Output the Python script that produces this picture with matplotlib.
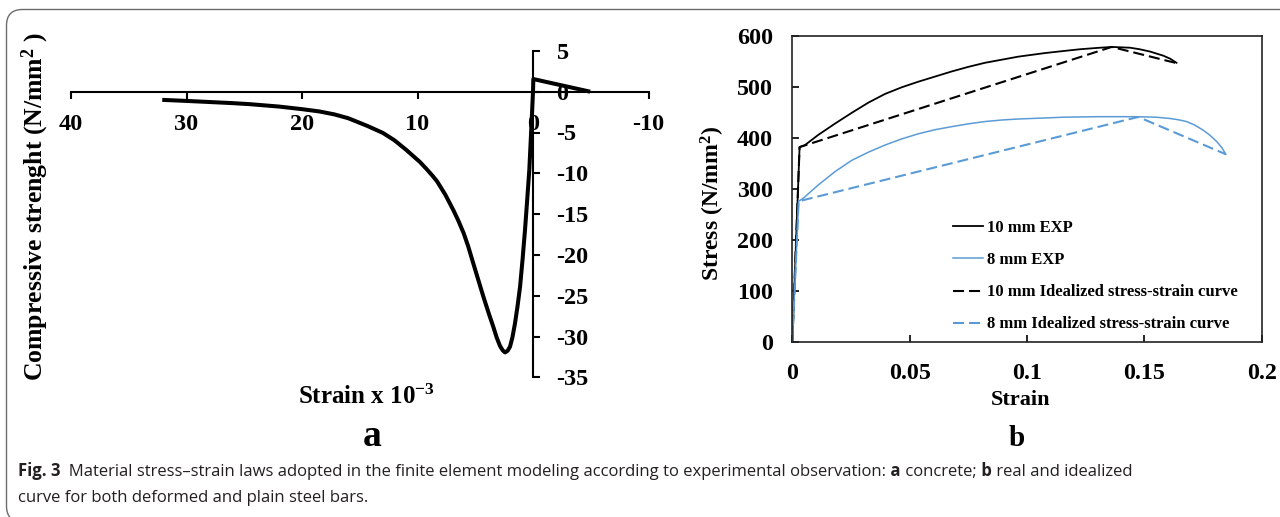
import matplotlib
matplotlib.use("Agg")
import matplotlib.pyplot as plt
from matplotlib.patches import FancyBboxPatch
from matplotlib.offsetbox import TextArea, HPacker, AnnotationBbox

# ---- concrete (panel a): strain x 10^-3 vs compressive strength ----
concrete_strain = [32.1, 30.0, 26.0, 24.5, 22.0, 20.0, 18.5, 17.2, 16.0, 14.35,
                   13.0, 12.0, 11.0, 10.4, 9.8, 9.2, 8.7, 8.3, 7.6, 6.9, 6.45,
                   6.0, 5.6, 5.2, 4.75, 4.3, 3.8, 3.44, 3.15, 2.86, 2.62,
                   2.42, 2.2, 1.99, 1.78, 1.56, 1.34, 1.12, 0.9, 0.69, 0.5,
                   0.32, 0.15, 0.0, -0.03, -4.95]
concrete_stress = [-1.0, -1.13, -1.4, -1.53, -1.82, -2.14, -2.42, -2.78, -3.25,
                   -4.19, -5.05, -5.95, -7.1, -7.85, -8.6, -9.5, -10.3, -11.0,
                   -12.6, -14.5, -15.85, -17.35, -19.0, -20.9, -23.0, -25.1,
                   -27.3, -28.8, -30.1, -31.15, -31.7, -31.95, -31.75, -31.25,
                   -30.1, -28.4, -26.3, -23.9, -20.5, -16.9, -13.2, -9.6,
                   -4.6, 0.0, 1.55, 0.0]
concrete_xticks = [40, 30, 20, 10, 0, -10]
concrete_yticks = [-35, -30, -25, -20, -15, -10, -5, 0, 5]

# ---- steel bars (panel b) ----
exp10_strain = [0, 0.0031, 0.0054, 0.0111, 0.0182, 0.0253, 0.0324, 0.0395,
                0.0466, 0.0537, 0.0608, 0.0679, 0.075, 0.0821, 0.0892,
                0.0963, 0.1076, 0.1155, 0.1226, 0.1297, 0.1361, 0.1439,
                0.148, 0.1524, 0.158, 0.161, 0.1637]
exp10_stress = [0, 382, 386, 406, 428, 449, 469, 486, 499, 510, 520, 530,
                539, 547, 553, 559, 566, 570, 573.5, 576, 578, 576.5, 573.5,
                569, 561, 555, 547]
exp8_strain = [0, 0.0027, 0.0047, 0.0111, 0.0182, 0.0253, 0.0324, 0.0395,
               0.0466, 0.0537, 0.0608, 0.0679, 0.075, 0.0821, 0.0892, 0.0963,
               0.1076, 0.1155, 0.13, 0.1467, 0.155, 0.1609, 0.1645, 0.168,
               0.1715, 0.1751, 0.178, 0.1808, 0.183, 0.1847]
exp8_stress = [0, 276, 282, 308, 334, 356, 372, 386, 398, 408, 416, 422, 427.5,
               432, 435, 437, 439, 440.5, 441.5, 441.5, 440.5, 438, 435.5, 432,
               425, 415, 405, 393, 381, 368]
ideal10_strain = [0, 0.0031, 0.1361, 0.1640]
ideal10_stress = [0, 382, 578, 546]
ideal8_strain = [0, 0.0027, 0.1474, 0.1847]
ideal8_stress = [0, 276, 441, 368]
steel_xticks = [0, 0.05, 0.1, 0.15, 0.2]
steel_xticklabels = ["0", "0.05", "0.1", "0.15", "0.2"]
steel_yticks = [0, 100, 200, 300, 400, 500, 600]
series_labels = ["10 mm EXP", "8 mm EXP",
                 "10 mm Idealized stress-strain curve",
                 "8 mm Idealized stress-strain curve"]

BLUE = "#5B9BD5"
W, H = 1280, 517

plt.rcParams.update({
    "font.family": ["Liberation Serif", "DejaVu Serif"],
    "font.weight": "bold",
    "axes.unicode_minus": False,
    "mathtext.fontset": "custom",
    "mathtext.rm": "Liberation Serif:bold",
    "mathtext.bf": "Liberation Serif:bold",
    "mathtext.it": "Liberation Serif:bold",
    "mathtext.default": "rm",
})

fig = plt.figure(figsize=(W / 100, H / 100), dpi=100)


def fx(px):
    return px / W


def fy(py):
    return 1 - py / H


def rect(x0, y0, x1, y1):
    return [fx(x0), fy(y1), fx(x1) - fx(x0), fy(y0) - fy(y1)]


# rounded frame around the figure (coordinates in inches)
frame = FancyBboxPatch((6.5 / 100, (H - 522) / 100), (1340 - 6.5) / 100,
                       (522 - 9.5) / 100,
                       boxstyle="round,pad=0,rounding_size=0.16",
                       transform=fig.dpi_scale_trans, facecolor="none",
                       edgecolor="#6b6b6b", linewidth=1.0, clip_on=False)
fig.add_artist(frame)

# ---------------- panel a ----------------
axa = fig.add_axes(rect(71, 50.9, 648.5, 377.3))
axa.plot(concrete_strain, concrete_stress, color="black", lw=2.9,
         solid_joinstyle="round", solid_capstyle="butt", zorder=3)
axa.set_xlim(40, -10)
axa.set_ylim(-35, 5)
axa.spines["top"].set_visible(False)
axa.spines["left"].set_visible(False)
axa.spines["bottom"].set_position(("data", 0))
axa.spines["right"].set_position(("data", 0))
for s in ("bottom", "right"):
    axa.spines[s].set_linewidth(1.5)
axa.yaxis.tick_right()
axa.set_xticks(concrete_xticks)
axa.set_xticklabels([str(v) for v in concrete_xticks])
axa.set_yticks(concrete_yticks)
axa.set_yticklabels([str(v) for v in concrete_yticks])
axa.tick_params(axis="x", direction="out", length=5, width=1.5, pad=11,
                labelsize=17.5)
axa.tick_params(axis="y", direction="out", length=5, width=1.5, pad=12,
                labelsize=17.5)
for lab in axa.get_yticklabels():
    lab.set_horizontalalignment("left")
axa.patch.set_visible(False)

fig.text(fx(35), fy(207), "Compressive strenght (N/mm$^2$ )", rotation=90,
         ha="center", va="center", fontsize=18.5, fontweight="bold")
fig.text(fx(366), fy(397), "Strain x 10$^{-3}$", ha="center", va="center",
         fontsize=18, fontweight="bold")
fig.text(fx(372), fy(436), "a", ha="center", va="center", fontsize=27,
         fontweight="bold")

# ---------------- panel b ----------------
axb = fig.add_axes(rect(792.3, 35.7, 1261.7, 342.3))
dash = (0, (5.3, 2.4))
h1, = axb.plot(exp10_strain, exp10_stress, color="black", lw=1.3)
h2, = axb.plot(exp8_strain, exp8_stress, color=BLUE, lw=1.1)
h3, = axb.plot(ideal10_strain, ideal10_stress, color="black", lw=1.5,
               linestyle=dash)
h4, = axb.plot(ideal8_strain, ideal8_stress, color=BLUE, lw=1.5,
               linestyle=dash)
axb.set_xlim(0, 0.2)
axb.set_ylim(0, 600)
axb.set_xticks(steel_xticks)
axb.set_xticklabels(steel_xticklabels)
axb.set_yticks(steel_yticks)
axb.set_yticklabels([str(v) for v in steel_yticks])
for s in axb.spines.values():
    s.set_linewidth(1.2)
    s.set_color("#222222")
axb.tick_params(axis="x", direction="in", length=5, width=1.2, pad=15,
                labelsize=17.3)
axb.tick_params(axis="y", direction="in", length=5, width=1.2, pad=14,
                labelsize=17.3)

leg_fs = 12
axb.legend([h1, h2, h3, h4], series_labels, loc="upper left",
           bbox_to_anchor=(fx(952.7), fy(220)),
           bbox_transform=fig.transFigure, frameon=False,
           prop={"weight": "bold", "size": leg_fs},
           handlelength=1.83, handletextpad=0.24, labelspacing=0.97,
           borderpad=0, borderaxespad=0)

fig.text(fx(712.5), fy(203), "Stress (N/mm$^2$)", rotation=90, ha="center",
         va="center", fontsize=17, fontweight="bold")
fig.text(fx(1021), fy(400), "Strain", ha="center", va="center", fontsize=16,
         fontweight="bold")
fig.text(fx(1017), fy(439), "b", ha="center", va="center", fontsize=21,
         fontweight="bold")

# ---------------- caption ----------------
cap_font = ["Open Sans", "DejaVu Sans"]
cap_fs = 12.0
cap_color = "#231f20"
pieces = [
    ("Fig. 3", "bold"),
    ("  Material stress\u2013strain laws adopted in the finite element modeling "
     "according to experimental observation:", "normal"),
    (" a", "bold"),
    (" concrete;", "normal"),
    (" b", "bold"),
    (" real and idealized", "normal"),
]
areas = [TextArea(t, textprops=dict(family=cap_font, size=cap_fs, weight=w,
                                    color=cap_color)) for t, w in pieces]
line1 = HPacker(children=areas, align="baseline", pad=0, sep=0)
ab = AnnotationBbox(line1, (fx(18), fy(479.5)), xycoords="figure fraction",
                    box_alignment=(0, 0), frameon=False, pad=0)
fig.add_artist(ab)
fig.text(fx(18), fy(501.7), "curve for both deformed and plain steel bars.",
         family=cap_font, size=cap_fs, weight="normal", color=cap_color,
         ha="left", va="baseline")

fig.savefig("out.png", dpi=100)
